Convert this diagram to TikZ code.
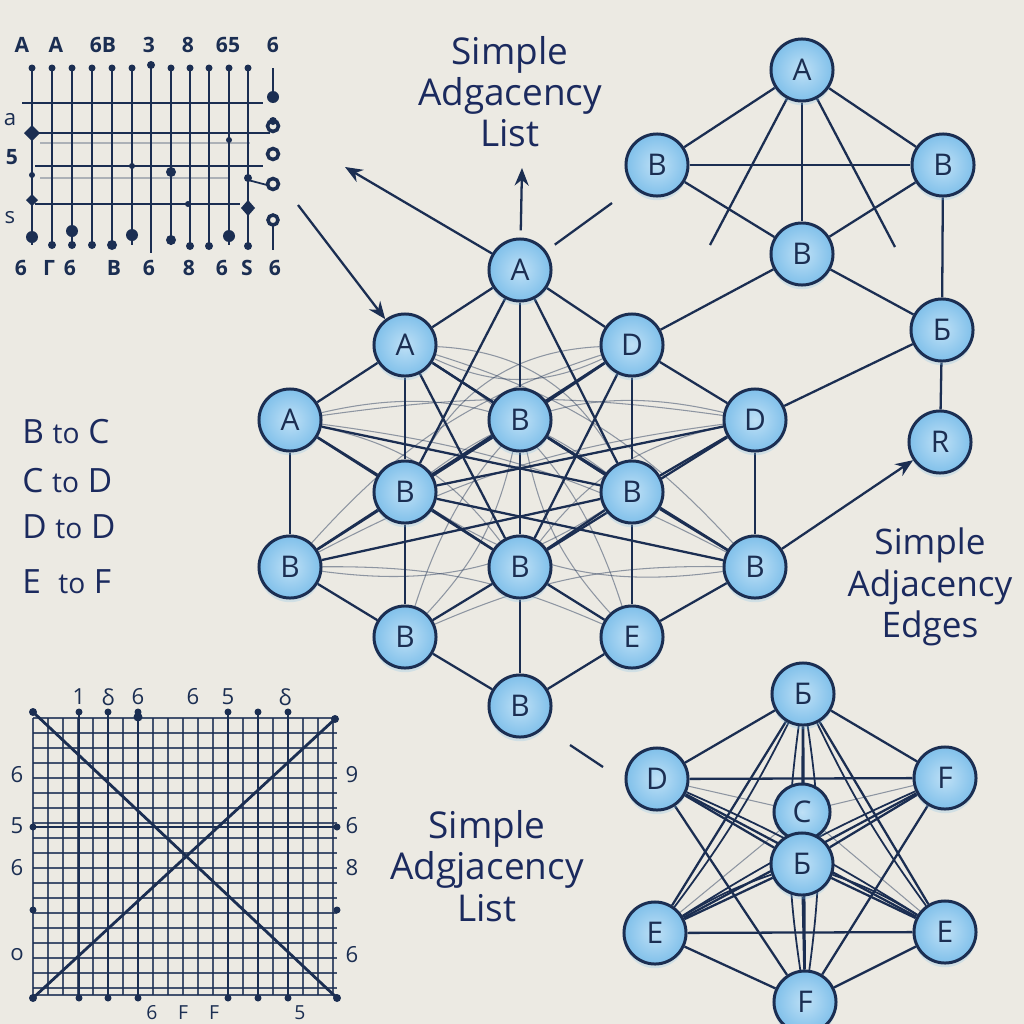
\documentclass[tikz,border=0pt]{standalone}
\usepackage{fontspec}
\setmainfont{Open Sans}
\usetikzlibrary{arrows.meta,shadows}
\definecolor{bgc}{HTML}{ECEAE3}
\definecolor{navy}{HTML}{1B2E52}
\definecolor{nfill}{HTML}{80C0EA}
\definecolor{nlight}{HTML}{BEE0F6}
\definecolor{ink}{HTML}{1B2A5E}
\pgfdeclarelayer{back}
\pgfdeclarelayer{wires}
\pgfsetlayers{back,wires,main}
\tikzset{
  gnode/.style={circle, draw=navy, line width=0.85pt, inner sep=0pt, minimum size=0.62cm,
     inner color=nlight, outer color=nfill, text=navy, font=\fontsize{8.5}{9}\selectfont,
     drop shadow={shadow xshift=0pt, shadow yshift=-1.2pt, opacity=0.25, fill=nfill}},
  smallnode/.style={gnode, minimum size=0.56cm},
  wire/.style={draw=navy, line width=0.65pt},
  faint/.style={draw=navy, line width=0.3pt, opacity=0.45},
  title/.style={text=ink, align=center, font=\fontsize{10.5}{11.7}\selectfont},
  listtxt/.style={text=ink, anchor=base west, font=\fontsize{9.5}{10}\selectfont},
  glabel/.style={text=navy, font=\bfseries\fontsize{6}{6}\selectfont},
  blabel/.style={text=navy, font=\fontsize{6.3}{6.3}\selectfont},
  gridv/.style={draw=navy, line width=0.75pt},
  gridh/.style={draw=navy, line width=0.5pt},
  fine/.style={draw=navy, line width=0.35pt, opacity=0.8},
  tipend/.style={-{Stealth[length=5pt,width=4pt]}},
}
\begin{document}
\begin{tikzpicture}[x=0.01cm,y=-0.01cm]
\useasboundingbox (0,0) rectangle (1024,1024);
\begin{pgfonlayer}{back}
\fill[bgc] (0,0) rectangle (1024,1024);
\end{pgfonlayer}

% ---------- titles and list ----------
\node[title] (t1) at (510,92) {Simple\\Adgacency\\List};
\node[title, font=\fontsize{10}{11.7}\selectfont] (t2) at (930,587) {Simple\\Adjacency\\Edges};
\node[title] (t3) at (487,866) {Simple\\Adgjacency\\List};
\node[listtxt] (l1) at (10,443) {B {\fontsize{8}{8}\selectfont to} C};
\node[listtxt] (l2) at (10,492) {C {\fontsize{8}{8}\selectfont to} D};
\node[listtxt] (l3) at (10,538) {D {\fontsize{8}{8}\selectfont to} D};
\node[listtxt] (l4) at (10,593) {E \ {\fontsize{8}{8}\selectfont to} F};

% ---------- top-left grid ----------
\foreach \x in {32,52,72,92,112,132,171,190,209,229,248} {
  \draw[gridv] (\x,68) -- (\x,245);
  \fill[navy] (\x,68) circle (3.5);
}
\draw[gridv] (151,65) -- (151,253);
\fill[navy] (151,65) circle (4);
\draw[gridh] (22,103) -- (263,103);
\draw[navy, line width=0.85pt] (32,133) -- (270,133);
\draw[gridh] (35,166) -- (263,166);
\draw[gridh] (35,204) -- (240,204);
\draw[navy, line width=0.3pt, opacity=0.3] (40,143) -- (250,143);
\draw[navy, line width=0.3pt, opacity=0.3] (40,178) -- (230,178);
\foreach \x/\y/\r in {32/237/6,52/245/4,72/231/6,72/245/4,92/245/4,112/245/5,132/235/6,171/240/5,190/246/4,209/246/4,229/236/6,248/246/4,
  32/175/3,132/166/3,171/172/5,188/204/3,229/140/3,248/178/4}
  \fill[navy] (\x,\y) circle (\r);
\fill[navy] (32,125) -- (40,133) -- (32,141) -- (24,133) -- cycle;
\fill[navy] (32,194) -- (38,200) -- (32,206) -- (26,200) -- cycle;
\fill[navy] (248,200) -- (255,208) -- (248,216) -- (241,208) -- cycle;
\draw[gridv] (273,68) -- (273,92);
\draw[gridv] (273,226) -- (273,250);
\fill[navy] (273,97) circle (6);
\draw[navy, line width=1pt, fill=bgc] (273,126) circle (5.5);
\fill[navy] (273,121) circle (4);
\draw[navy, line width=1pt, fill=bgc] (273,154) circle (5.5);
\draw[navy, line width=1pt, fill=bgc] (273,184) circle (5.5);
\draw[navy, line width=1pt, fill=bgc] (273,220) circle (5);
\draw[gridh] (248,180) -- (267,185);
\foreach \t/\x in {A/22,A/56,6B/103,3/149,8/188,65/228,6/273}
  \node[glabel] at (\x,45) {\t};
\foreach \t/\x in {6/21,Г/49,6/70,B/114,6/149,8/189,6/222,S/247,6/275}
  \node[glabel] at (\x,268) {\t};
\node[blabel] at (10,120) {a};
\node[glabel] at (12,157) {5};
\node[blabel] at (10,218) {s};

% ---------- bottom-left grid ----------
\foreach \x in {33,48,...,333} \draw[fine] (\x,718) -- (\x,995);
\foreach \y in {718,733,...,988} \draw[fine] (33,\y) -- (337,\y);
\draw[fine] (33,995) -- (337,995);
\foreach \x in {79,108,138,228,258,288} {
  \draw[gridv] (\x,712) -- (\x,998);
  \fill[navy] (\x,712) circle (3.5);
  \fill[navy] (\x,998) circle (3.5);
}
\fill[navy] (138,717) circle (4.5);
\draw[gridv] (33,827) -- (337,827);
\foreach \y in {827,910} {\fill[navy] (33,\y) circle (3.5); \fill[navy] (337,\y) circle (3.5);}
\draw[navy, line width=0.8pt] (33,712) -- (337,998);
\draw[navy, line width=0.8pt] (33,998) -- (335,719);
\foreach \x/\y in {33/712,337/998,33/998,335/719} \fill[navy] (\x,\y) circle (4);
\foreach \t/\x in {1/79,δ/108,6/138,6/193,5/228,δ/285}
  \node[blabel] at (\x,697) {\t};
\foreach \t/\y in {6/775,5/826,6/868,o/955} \node[blabel] at (17,\y) {\t};
\foreach \t/\y in {9/775,6/826,8/868,6/955} \node[blabel] at (352,\y) {\t};
\foreach \t/\x in {6/152,F/183,F/214,5/300} \node[blabel, font=\fontsize{5.5}{5.5}\selectfont] at (\x,1013) {\t};

% ---------- central graph ----------
\node[gnode] (cA) at (520,270) {A};
\node[gnode] (A1) at (405,345) {A};
\node[gnode] (D1) at (632,345) {D};
\node[gnode] (A2) at (290,420) {A};
\node[gnode] (Bc) at (520,420) {B};
\node[gnode] (D2) at (755,420) {D};
\node[gnode] (B3) at (405,492) {B};
\node[gnode] (B4) at (632,492) {B};
\node[gnode] (B5) at (290,567) {B};
\node[gnode] (B6) at (520,567) {B};
\node[gnode] (B7) at (755,567) {B};
\node[gnode] (B8) at (405,637) {B};
\node[gnode] (E1) at (632,637) {E};
\node[gnode] (B9) at (520,706) {B};

% ---------- top-right graph ----------
\node[gnode] (TA) at (802,70) {A};
\node[gnode] (TB1) at (657,165) {B};
\node[gnode] (TB2) at (943,165) {B};
\node[gnode] (TB3) at (802,254) {B};
\node[gnode] (TB4) at (942,330) {Б};
\node[gnode] (TR) at (940,442) {R};

% ---------- bottom-right graph ----------
\node[gnode] (bB) at (803,694) {Б};
\node[gnode] (bD) at (657,779) {D};
\node[gnode] (bF) at (945,778) {F};
\node[smallnode] (bC) at (802,812) {C};
\node[gnode] (bE) at (802,864) {Б};
\node[gnode] (bE1) at (655,933) {E};
\node[gnode] (bE2) at (945,932) {E};
\node[gnode] (bF2) at (805,1002) {F};

\coordinate (arrA) at (298,205);
\coordinate (arrB) at (345,167);
\coordinate (arrC) at (522,168);
\coordinate (strayA) at (612,203);
\coordinate (tA1) at (710,245);
\coordinate (tA2) at (895,247);
\coordinate (st1) at (570,745);
\coordinate (st2) at (603,767);

\begin{pgfonlayer}{wires}
% central
\foreach \a/\b in {cA/A1, cA/D1, cA/Bc, cA/B3, cA/B4,
  A1/A2, A1/B3, A1/Bc, A1/B4, A1/B6,
  D1/D2, D1/B4, D1/Bc, D1/B3, D1/B6,
  A2/B5, A2/B3, A2/B4, A2/B6,
  D2/B7, D2/B4, D2/B3, D2/B6,
  Bc/B6, Bc/B3, Bc/B4, Bc/B5, Bc/B7,
  B3/B5, B3/B8, B3/B6, B3/B7,
  B4/B7, B4/E1, B4/B6, B4/B5,
  B5/B8, B7/E1, B8/B9, E1/B9, B6/B9, B6/B8, B6/E1}
  \draw[wire] (\a) -- (\b);
\foreach \a/\b/\ang in {A1/B7/15, D1/B5/-15, A2/B7/10, D2/B5/-10, A1/E1/20, D1/B8/-20,
  B3/D2/25, B4/A2/-25, Bc/B8/15, Bc/E1/-15, A2/B6/20, D2/B6/-20, B3/B7/-20, B4/B5/20,
  A1/B4/30, D1/B3/-30, A1/D1/-25, B5/E1/12, B7/B8/-12, A2/D2/8}
  \draw[faint] (\a) to[bend left=\ang] (\b);
\draw[wire, tipend] (arrA) -- (A1);
\draw[wire, tipend] (cA) -- (arrB);
\draw[wire, tipend, shorten <=2pt] (cA) -- (arrC);
\draw[wire, shorten <=3pt] (cA) -- (strayA);
\draw[wire] (st1) -- (st2);
% top-right
\foreach \a/\b in {TA/TB1, TA/TB2, TA/TB3, TB1/TB2, TB1/TB3, TB2/TB3, TB2/TB4,
  TB3/TB4, TB3/D1, TB4/D2, TB4/TR}
  \draw[wire] (\a) -- (\b);
\draw[wire] (TA) -- (tA1);
\draw[wire] (TA) -- (tA2);
\draw[wire, tipend] (B7) -- (TR);
% bottom-right
\foreach \a/\b in {bB/bD, bB/bF, bB/bE, bB/bE1, bB/bE2, bB/bF2,
  bD/bF, bD/bE, bD/bE2, bD/bF2,
  bF/bE, bF/bE1, bF/bF2,
  bE/bE1, bE/bE2, bE/bF2,
  bE1/bE2, bE1/bF2, bE2/bF2}
  \draw[wire] (\a) -- (\b);
\foreach \a/\b/\ang in {bB/bF2/8, bB/bF2/-8, bD/bE2/4, bF/bE1/-4, bB/bE1/5, bB/bE2/-5, bE1/bE/6, bE2/bE/-6}
  \draw[wire, line width=0.5pt] (\a) to[bend left=\ang] (\b);
\foreach \a/\b in {bC/bD, bC/bF, bC/bE1, bC/bE2}
  \draw[faint] (\a) -- (\b);
\end{pgfonlayer}
\end{tikzpicture}
\end{document}
